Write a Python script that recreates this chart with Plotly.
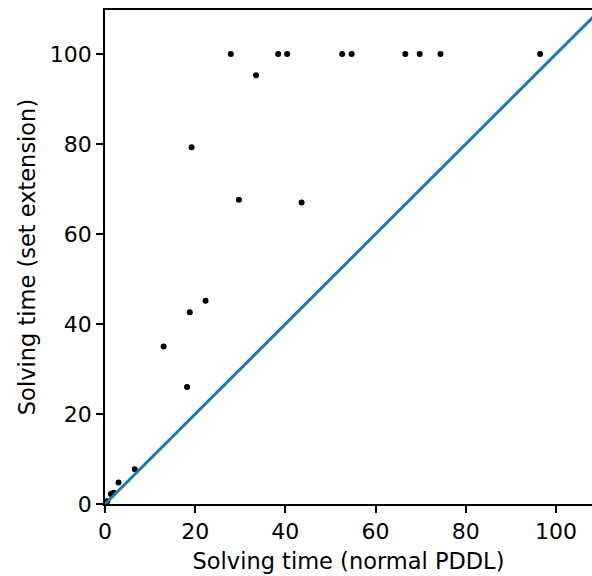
import plotly.graph_objects as go

normal_pddl = [0.5, 1.3, 1.9, 3.0, 6.6, 13.0, 18.2, 18.8, 19.2, 22.3, 27.9, 29.7, 33.5,
               38.4, 40.4, 43.6, 52.6, 54.7, 66.6, 69.8, 74.4, 96.5]
set_extension = [0.6, 2.2, 2.5, 4.8, 7.7, 35.0, 26.0, 42.6, 79.3, 45.2, 100.0, 67.6, 95.3,
                 100.0, 100.0, 67.0, 100.0, 100.0, 100.0, 100.0, 100.0, 100.0]
diag = [0, 120]
tick_vals = [0, 20, 40, 60, 80, 100]

fig = go.Figure()
fig.add_trace(go.Scatter(x=normal_pddl, y=set_extension, mode="markers",
                         marker=dict(color="black", size=6), showlegend=False))
fig.add_trace(go.Scatter(x=diag, y=diag, mode="lines",
                         line=dict(color="#1f77b4", width=3), showlegend=False))

axis_common = dict(showgrid=False, zeroline=False, showline=True, linecolor="black",
                   linewidth=1.8, mirror=True, ticks="outside", ticklen=7, tickwidth=1.8,
                   tickcolor="black", tickvals=tick_vals, automargin=False,
                   tickfont=dict(family="DejaVu Sans", size=22, color="black"))
fig.update_layout(
    width=592, height=576,
    margin=dict(l=105, r=0, t=10, b=72, autoexpand=False),
    plot_bgcolor="white", paper_bgcolor="white",
    font=dict(family="DejaVu Sans", size=22, color="black"),
    xaxis=dict(range=[0, 108], title=dict(text="Solving time (normal PDDL)", standoff=10,
                                          font=dict(size=22.5)), **axis_common),
    yaxis=dict(range=[0, 109.8], title=dict(text="Solving time (set extension)", standoff=8,
                                            font=dict(size=22.5)), **axis_common),
)
fig.write_html("out.html", config={"displayModeBar": False},
               post_script="document.body.style.margin='0';document.body.style.overflow='hidden';")
